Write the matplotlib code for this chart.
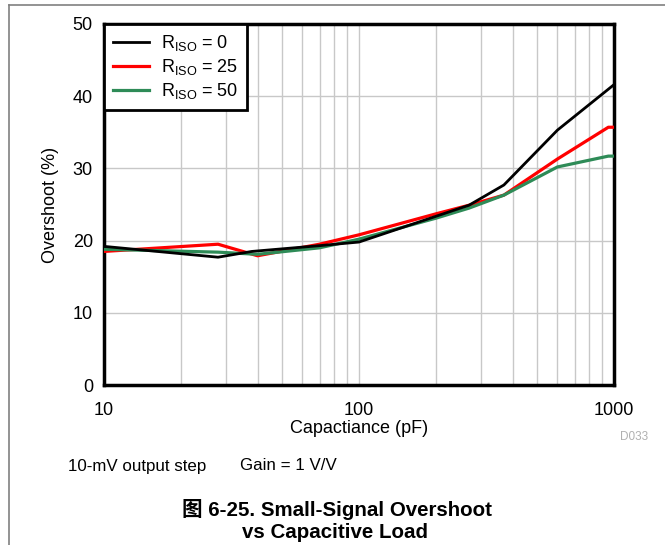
import matplotlib
matplotlib.use("Agg")
import matplotlib.pyplot as plt
from matplotlib.lines import Line2D
from matplotlib.ticker import FixedLocator, NullFormatter, FixedFormatter

plt.rcParams['font.family'] = ['Liberation Sans', 'Noto Sans CJK SC', 'DejaVu Sans']
plt.rcParams['mathtext.fontset'] = 'custom'
plt.rcParams['mathtext.rm'] = 'Liberation Sans'

# Data
cap_r0 = [10, 28, 38, 70, 100, 270, 370, 600, 1000]
os_r0 = [19.2, 17.7, 18.5, 19.3, 19.8, 24.9, 27.7, 35.3, 41.6]

cap_r25 = [10, 28, 40, 70, 100, 200, 270, 370, 600, 950, 1000]
os_r25 = [18.5, 19.5, 17.9, 19.5, 20.8, 23.7, 24.9, 26.3, 31.3, 35.7, 35.7]

cap_r50 = [10, 28, 40, 70, 100, 200, 270, 370, 600, 950, 1000]
os_r50 = [18.8, 18.4, 18.1, 19.0, 20.2, 23.1, 24.5, 26.3, 30.2, 31.7, 31.7]

labels = [r'R$_{\mathregular{ISO}}$ = 0', r'R$_{\mathregular{ISO}}$ = 25', r'R$_{\mathregular{ISO}}$ = 50']
colors = ['#000000', '#ff0000', '#2e8b57']

xticks = [10, 100, 1000]
xticklabels = ['10', '100', '1000']
yticks = [0, 10, 20, 30, 40, 50]

fig = plt.figure(figsize=(6.65, 5.45), dpi=100)
ax = fig.add_axes([104/665, 1-385/545, (614-104)/665, (385-24)/545])

ax.plot(cap_r0, os_r0, color=colors[0], lw=2.0, label=labels[0], zorder=4)
ax.plot(cap_r25, os_r25, color=colors[1], lw=2.3, label=labels[1], zorder=3)
ax.plot(cap_r50, os_r50, color=colors[2], lw=2.3, label=labels[2], zorder=3)

ax.set_xscale('log')
ax.set_xlim(10, 1000)
ax.set_ylim(0, 50)
ax.xaxis.set_major_locator(FixedLocator(xticks))
ax.xaxis.set_major_formatter(FixedFormatter(xticklabels))
ax.xaxis.set_minor_locator(FixedLocator([20, 30, 40, 50, 60, 70, 80, 90, 200, 300, 400, 500, 600, 700, 800, 900]))
ax.xaxis.set_minor_formatter(NullFormatter())
ax.set_yticks(yticks)
ax.grid(True, which='both', color='#c8c8c8', lw=1.0)
ax.tick_params(which='both', length=0, labelsize=13, colors='black', pad=8)
ax.tick_params(axis='x', pad=12)
for s in ax.spines.values():
    s.set_linewidth(2.5)
    s.set_color('black')

ax.set_xlabel('Capactiance (pF)', fontsize=13, labelpad=1)
ax.set_ylabel('Overshoot (%)', fontsize=13, labelpad=10)

leg = ax.legend(loc='upper left', bbox_to_anchor=(0, 1), fontsize=13, frameon=True,
                fancybox=False, borderaxespad=0, handlelength=2.0, handletextpad=0.65,
                labelspacing=0.22, borderpad=0.5)
leg.get_frame().set_edgecolor('black')
leg.get_frame().set_linewidth(2.0)
leg.get_frame().set_alpha(1)

fig.text(620/665, 1-437/545, 'D033', fontsize=8.5, color='#b0b0b0', ha='left', va='center')
fig.text(68/665, 1-466/545, '10-mV output step', fontsize=12.2, ha='left', va='center')
fig.text(240/665, 1-466/545, 'Gain = 1 V/V', fontsize=12.2, ha='left', va='center')
fig.text(337/665, 1-510/545, '图 6-25. Small-Signal Overshoot', fontsize=14.8,
         fontweight='bold', ha='center', va='center')
fig.text(335/665, 1-533/545, 'vs Capacitive Load', fontsize=14.8,
         fontweight='bold', ha='center', va='center')

# page border lines
fig.add_artist(Line2D([9/665, 9/665], [0, 1-5/545], color='#808080', lw=1.2, transform=fig.transFigure))
fig.add_artist(Line2D([9/665, 1], [1-5/545, 1-5/545], color='#808080', lw=1.2, transform=fig.transFigure))

fig.savefig('out.png', dpi=100)
